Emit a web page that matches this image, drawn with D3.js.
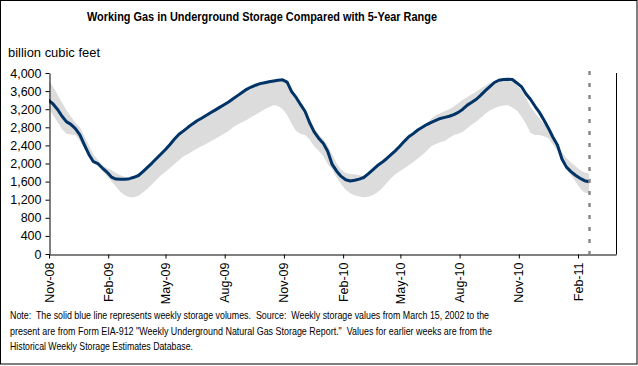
<!DOCTYPE html>
<html><head><meta charset="utf-8">
<script src="https://cdn.jsdelivr.net/npm/d3@7"></script>
<style>
html,body{margin:0;padding:0;background:#fff;}
svg{display:block;font-family:"Liberation Sans",Arial,sans-serif;}
text{white-space:pre;}
</style></head>
<body><svg id="c" width="638" height="366"></svg>
<script>
// ---- data (weekly, first week ending 2008-10-31) ----
const firstWeek = "2008-10-31";
const storage = [3400,3320,3200,3050,2925,2865,2770,2630,2410,2200,
 2040,1995,1900,1810,1700,1655,1650,1650,1665,1695,
 1735,1820,1915,2010,2110,2210,2310,2420,2540,2645,
 2720,2800,2875,2945,3000,3060,3120,3180,3240,3300,
 3360,3430,3500,3570,3640,3690,3730,3765,3785,3805,
 3825,3840,3850,3800,3590,3460,3300,3150,2900,2700,
 2560,2450,2270,1980,1830,1715,1640,1615,1630,1655,
 1690,1770,1860,1950,2020,2100,2190,2280,2380,2490,
 2590,2660,2740,2800,2860,2910,2955,2995,3020,3045,
 3080,3130,3200,3290,3355,3420,3510,3610,3700,3790,
 3840,3858,3860,3855,3780,3700,3540,3420,3270,3130,
 2960,2780,2580,2410,2100,1920,1820,1740,1673,1620,1598];
const rangeMax = [3850,3700,3530,3350,3180,3040,2900,2800,2600,2400,
 2200,2080,1960,1900,1850,1790,1740,1700,1645,1675,
 1715,1800,1895,1990,2090,2190,2290,2400,2520,2625,
 2700,2780,2855,2925,2980,3040,3100,3160,3220,3280,
 3340,3410,3480,3550,3620,3670,3710,3745,3765,3785,
 3805,3820,3830,3810,3650,3500,3360,3200,2980,2790,
 2640,2540,2400,2200,2000,1860,1790,1770,1760,1740,
 1720,1760,1845,1935,2010,2085,2175,2265,2365,2475,
 2580,2660,2750,2820,2890,2990,3070,3110,3160,3200,
 3260,3330,3410,3470,3530,3590,3660,3720,3780,3820,
 3830,3840,3840,3830,3740,3620,3450,3260,3120,3000,
 2880,2740,2600,2420,2250,2120,2020,1940,1860,1800,1780];
const rangeMin = [3270,3080,2920,2760,2660,2640,2630,2500,2330,2170,
 2060,1950,1830,1720,1610,1490,1370,1300,1255,1255,
 1285,1360,1440,1540,1640,1740,1820,1900,1990,2070,
 2160,2210,2270,2330,2380,2430,2490,2540,2600,2660,
 2720,2800,2860,2910,2960,3020,3080,3140,3200,3250,
 3290,3270,3200,3080,2880,2720,2650,2630,2530,2380,
 2280,2170,1990,1870,1690,1540,1420,1340,1300,1270,
 1255,1265,1300,1360,1440,1560,1670,1760,1830,1890,
 1960,2030,2110,2190,2280,2380,2430,2470,2500,2570,
 2630,2660,2700,2780,2860,2930,3010,3100,3170,3220,
 3260,3280,3290,3240,3170,3040,2880,2680,2630,2630,
 2600,2560,2420,2280,2080,1880,1740,1600,1460,1360,1340];
const yTicks = [0,400,800,1200,1600,2000,2400,2800,3200,3600,4000];
const xTickMonths = ["2008-11-01","2009-02-01","2009-05-01","2009-08-01","2009-11-01","2010-02-01","2010-05-01","2010-08-01","2010-11-01","2011-02-01"];
const xDomain = ["2008-11-01","2011-04-01"];
const markerDate = "2011-02-18";
const title = "Working Gas in Underground Storage Compared with 5-Year Range";
const yLabel = "billion cubic feet";
const noteLines = [
 "Note:  The solid blue line represents weekly storage volumes.  Source:  Weekly storage values from March 15, 2002 to the",
 "present are from Form EIA-912 \"Weekly Underground Natural Gas Storage Report.\"  Values for earlier weeks are from the",
 "Historical Weekly Storage Estimates Database."];

// ---- build ----
const parse = d3.timeParse("%Y-%m-%d");
const fmt = d3.timeFormat("%b-%y");
const start = parse(firstWeek);
const data = storage.map((v,i)=>({d:d3.timeDay.offset(start,7*i), v, lo:rangeMin[i], hi:rangeMax[i]}));

const svg = d3.select("#c");
const L=49, R=616, T=73, B=254;
const x = d3.scaleTime().domain(xDomain.map(parse)).range([L,R]);
const y = d3.scaleLinear().domain([0,4000]).range([B,T]);

svg.append("rect").attr("x",0.5).attr("y",0.5).attr("width",636.5).attr("height",363.5)
  .attr("fill","#fff").attr("stroke","#000");

svg.append("defs").append("clipPath").attr("id","pc").append("rect")
  .attr("x",L).attr("y",T-5).attr("width",R-L).attr("height",B-T+5);

const g = svg.append("g").attr("clip-path","url(#pc)");
g.append("path").datum(data)
  .attr("d",d3.area().x(d=>x(d.d)).y0(d=>y(d.lo)).y1(d=>y(d.hi)))
  .attr("fill","#dcdcdc");
g.append("path").datum(data)
  .attr("d",d3.line().x(d=>x(d.d)).y(d=>y(d.v)))
  .attr("fill","none").attr("stroke","#003366").attr("stroke-width",3).attr("stroke-linejoin","round");

// marker dashed line
const mx = Math.round(x(parse(markerDate)))+0.5;
svg.append("line").attr("x1",mx).attr("x2",mx).attr("y1",y(4000)-2).attr("y2",B)
  .attr("stroke","#888").attr("stroke-width",2.5).attr("stroke-dasharray","4,8");

// axes
const yAxis = d3.axisLeft(y).tickValues(yTicks).tickSize(4).tickSizeOuter(0).tickFormat(d3.format(","));
const ya = svg.append("g").attr("transform",`translate(${L+0.5},0)`).call(yAxis);
ya.selectAll("text").attr("font-size","12.5px").attr("fill","#000").attr("x",-8);
ya.selectAll("line,path").attr("stroke","#000");

const xAxis = d3.axisBottom(x).tickValues(xTickMonths.map(parse)).tickSize(4).tickSizeOuter(0).tickFormat(fmt);
const xa = svg.append("g").attr("transform",`translate(0,${B+0.5})`).call(xAxis);
xa.selectAll("line,path").attr("stroke","#000");
xa.selectAll("text").attr("font-size","12.5px").attr("fill","#000")
  .attr("text-anchor","end").attr("dy",null).attr("y",0)
  .attr("transform","translate(4,8) rotate(-90)").attr("x",0);

// right secondary axis line
svg.append("line").attr("x1",R+0.5).attr("x2",R+0.5).attr("y1",T).attr("y2",B+0.5).attr("stroke","#000");

// texts
svg.append("text").attr("x",87).attr("y",21).attr("font-size","13px").attr("font-weight","bold")
  .attr("textLength",350).attr("lengthAdjust","spacingAndGlyphs").text(title);
svg.append("text").attr("x",8).attr("y",57).attr("font-size","12.5px")
  .attr("textLength",92).attr("lengthAdjust","spacingAndGlyphs").text(yLabel);
const noteW=[479,482,183], noteY=[319,335,350];
noteLines.forEach((t,i)=>{
  svg.append("text").attr("x",10).attr("y",noteY[i]).attr("font-size","11px")
    .attr("xml:space","preserve")
    .attr("textLength",noteW[i]).attr("lengthAdjust","spacingAndGlyphs").text(t);
});
</script></body></html>
